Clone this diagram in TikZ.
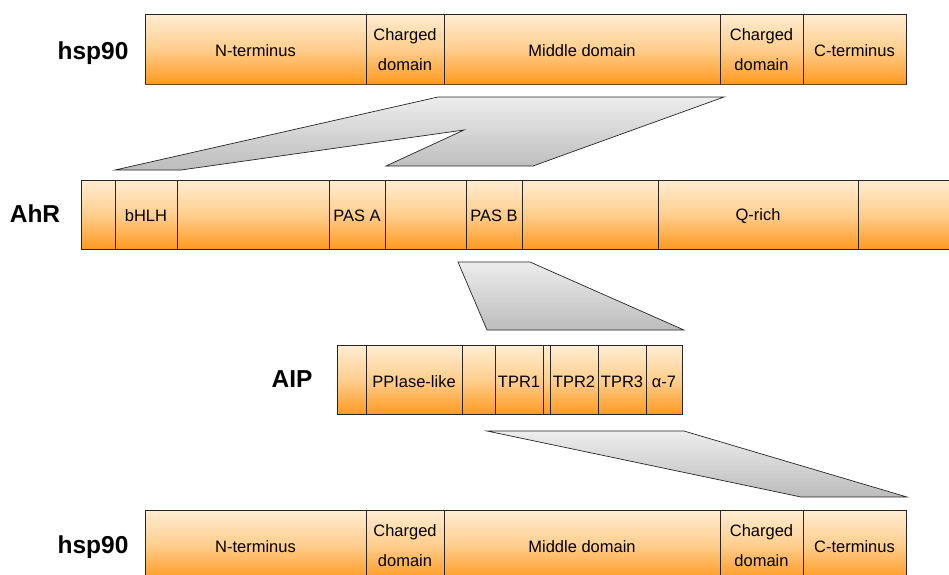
\documentclass[tikz,border=0pt]{standalone}
\usepackage{fontspec}
\setmainfont{Liberation Sans}
\definecolor{ortop}{RGB}{255,237,210}
\definecolor{ormid}{RGB}{255,206,142}
\definecolor{orbot}{RGB}{255,153,32}
\definecolor{grtop}{RGB}{237,237,237}
\definecolor{grbot}{RGB}{188,188,188}
\definecolor{edgebrown}{RGB}{105,72,30}
\tikzset{
  dom/.style={draw=black!85, line width=0.8pt, inner sep=0pt,
    top color=ortop, bottom color=orbot, middle color=ormid,
    align=center, text height=14.5pt, font=\fontsize{16.5}{30}\selectfont},
  twoline/.style={text height=43pt},
  protlabel/.style={font=\bfseries\fontsize{24.5}{28}\selectfont, anchor=base},
  wedge/.style={draw=black!85, line width=0.7pt,
    top color=grtop, bottom color=grbot},
}
% one domain box: [extra style] name, left x, right x, centre y, height, text
\newcommand\domseg[7][]{\node[dom, #1, minimum width={(#4-#3)*1pt}, minimum height={#6*1pt}] (#2) at ({(#3+#4)/2},#5) {#7};}
\begin{document}
\begin{tikzpicture}[x=1pt,y=-1pt]
\useasboundingbox (0,0) rectangle (949,574);

% hsp90 (upper)
\node[protlabel] (hspA) at (93,59) {hsp90};
\domseg{hAn}{145}{366}{49}{70}{N-terminus}
\domseg[twoline]{hAc}{366}{444}{49}{70}{Charged\\domain}
\domseg{hAm}{444}{720}{49}{70}{Middle domain}
\domseg[twoline]{hAd}{720}{803}{49}{70}{Charged\\domain}
\domseg{hAt}{803}{906}{49}{70}{C-terminus}
\draw[edgebrown, line width=1.4pt] (hAn.south west) -- (hAt.south east);

% AhR
\node[protlabel] (ahr) at (35,222) {AhR};
\domseg{r1}{81}{115}{214.5}{69}{}
\domseg{r2}{115}{177}{214.5}{69}{bHLH}
\domseg{r3}{177}{329}{214.5}{69}{}
\domseg{r4}{329}{385}{214.5}{69}{PAS A}
\domseg{r5}{385}{466}{214.5}{69}{}
\domseg{r6}{466}{522}{214.5}{69}{PAS B}
\domseg{r7}{522}{658}{214.5}{69}{}
\domseg{r8}{658}{858}{214.5}{69}{Q-rich}
\domseg{r9}{858}{960}{214.5}{69}{}

% AIP
\node[protlabel] (aip) at (292,387) {AIP};
\domseg{a1}{337}{366}{380.2}{69}{}
\domseg{a2}{366}{462}{380.2}{69}{PPIase-like}
\domseg{a3}{462}{495}{380.2}{69}{}
\domseg{a4}{495}{543}{380.2}{69}{TPR1}
\domseg{a5}{543}{550}{380.2}{69}{}
\domseg{a6}{550}{598}{380.2}{69}{TPR2}
\domseg{a7}{598}{646}{380.2}{69}{TPR3}
\domseg{a8}{646}{682}{380.2}{69}{α-7}

% hsp90 (lower)
\node[protlabel] (hspB) at (93,553) {hsp90};
\domseg{hBn}{145}{366}{545}{70}{N-terminus}
\domseg[twoline]{hBc}{366}{444}{545}{70}{Charged\\domain}
\domseg{hBm}{444}{720}{545}{70}{Middle domain}
\domseg[twoline]{hBd}{720}{803}{545}{70}{Charged\\domain}
\domseg{hBt}{803}{906}{545}{70}{C-terminus}

% interaction wedges between the chains
\coordinate (w1a) at (115,170);
\coordinate (w1b) at (438,97);
\coordinate (w1c) at (724,97);
\coordinate (w1d) at (533,166);
\coordinate (w1e) at (386,166);
\coordinate (w1f) at (464,130);
\coordinate (w1g) at (181,170);
\draw[wedge] (w1a) -- (w1b) -- (w1c) -- (w1d) -- (w1e) -- (w1f) -- (w1g) -- cycle;

\coordinate (w2a) at (458,262);
\coordinate (w2b) at (530,262);
\coordinate (w2c) at (684,330);
\coordinate (w2d) at (487,330);
\draw[wedge] (w2a) -- (w2b) -- (w2c) -- (w2d) -- cycle;

\coordinate (w3a) at (487,431);
\coordinate (w3b) at (684,431);
\coordinate (w3c) at (907,497);
\coordinate (w3d) at (801,497);
\draw[wedge] (w3a) -- (w3b) -- (w3c) -- (w3d) -- cycle;
\end{tikzpicture}
\end{document}
